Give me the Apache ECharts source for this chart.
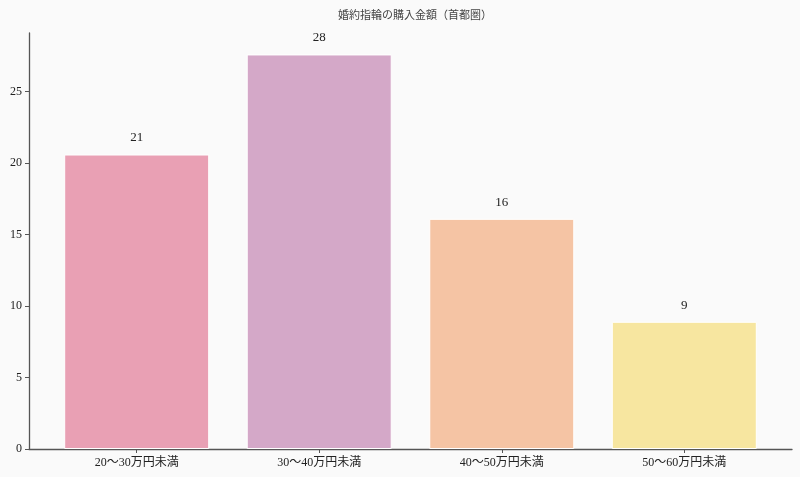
<!DOCTYPE html>
<html>
<head>
<meta charset="utf-8">
<style>
    html, body { margin: 0; padding: 0; background: #fafafa; }
    #chart { width: 800px; height: 477px; }
</style>
<script src="https://cdn.jsdelivr.net/npm/echarts@6/dist/echarts.min.js"></script>
</head>
<body>
<div id="chart"></div>
<script>
// 価格帯
var categories = ['20〜30万円未満', '30〜40万円未満', '40〜50万円未満', '50〜60万円未満'];
// 割合(%)
var values = [20.6, 27.6, 16.1, 8.9];
var barColors = ['#e9a0b4', '#d4a8c8', '#f5c4a4', '#f7e6a0'];
var yTicks = [0, 5, 10, 15, 20, 25];
var xTicks = [0, 1, 2, 3];

var FONT = '"Liberation Serif", "DejaVu Serif", "Noto Sans CJK JP", serif';

var myChart = echarts.init(document.getElementById('chart'));

var option = {
    backgroundColor: '#fafafa',
    animation: false,
    title: {
        text: '婚約指輪の購入金額（首都圏）',
        left: 410,
        textAlign: 'center',
        top: 6,
        textStyle: {
            fontFamily: FONT,
            fontSize: 11,
            fontWeight: 'normal',
            color: '#444'
        }
    },
    grid: {
        left: 29,
        right: 8,
        top: 33,
        bottom: 28,
        containLabel: false
    },
    xAxis: {
        type: 'value',
        min: -0.59,
        max: 3.59,
        splitLine: { show: false },
        axisLine: {
            onZero: false,
            lineStyle: { color: '#555', width: 1.3 }
        },
        axisTick: {
            show: true,
            customValues: xTicks,
            length: 4,
            lineStyle: { color: '#555' }
        },
        axisLabel: {
            customValues: xTicks,
            margin: 8,
            fontFamily: FONT,
            fontSize: 12,
            color: '#222',
            formatter: function (v) {
                return categories[Math.round(v)];
            }
        }
    },
    yAxis: {
        type: 'value',
        min: 0,
        max: 29.1,
        interval: 5,
        splitLine: { show: false },
        axisLine: {
            show: true,
            onZero: false,
            lineStyle: { color: '#555', width: 1.3 }
        },
        axisTick: {
            show: true,
            customValues: yTicks,
            length: 4,
            lineStyle: { color: '#555' }
        },
        axisLabel: {
            customValues: yTicks,
            margin: 7,
            fontFamily: FONT,
            fontSize: 12,
            color: '#222'
        }
    },
    series: [
        {
            type: 'bar',
            barWidth: 145,
            data: values.map(function (v, i) {
                return {
                    value: [i, v],
                    itemStyle: { color: barColors[i] }
                };
            }),
            itemStyle: {
                borderColor: '#ffffff',
                borderWidth: 1
            },
            label: {
                show: true,
                position: 'top',
                distance: 10,
                fontFamily: FONT,
                fontSize: 13,
                color: '#222',
                formatter: function (p) {
                    return Math.round(p.value[1]);
                }
            }
        }
    ]
};

myChart.setOption(option);
</script>
</body>
</html>
